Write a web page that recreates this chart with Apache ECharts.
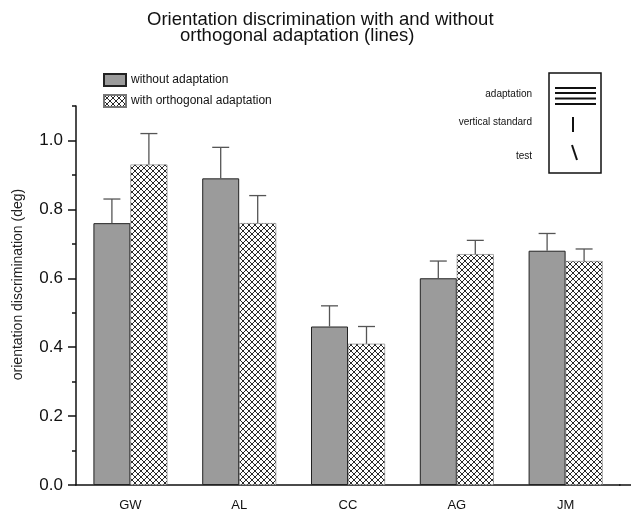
<!DOCTYPE html>
<html><head><meta charset="utf-8">
<script src="https://cdn.jsdelivr.net/npm/echarts@6/dist/echarts.min.js"></script>
<style>html,body{margin:0;padding:0;background:#fff}#c{width:632px;height:515px}</style>
</head><body><div id="c"></div>
<script>
const categories = ['GW', 'AL', 'CC', 'AG', 'JM'];
const withoutAdaptation = [0.76, 0.89, 0.46, 0.60, 0.68];
const withoutAdaptationErr = [0.07, 0.09, 0.06, 0.05, 0.05];
const withAdaptation = [0.93, 0.76, 0.41, 0.67, 0.65];
const withAdaptationErr = [0.09, 0.08, 0.05, 0.04, 0.035];
const yMajorTicks = [0, 0.2, 0.4, 0.6, 0.8, 1.0];
const yMinorTicks = [0.1, 0.3, 0.5, 0.7, 0.9, 1.1];
const seriesNames = ['without adaptation', 'with orthogonal adaptation'];
const insetLabels = ['adaptation', 'vertical standard', 'test'];

const FONT = '"Liberation Sans", Arial, sans-serif';
const BAR = 0.34;

function hatch() {
  const c = document.createElement('canvas');
  c.width = 6; c.height = 6;
  const g = c.getContext('2d');
  g.fillStyle = '#fff'; g.fillRect(0, 0, 6, 6);
  g.strokeStyle = '#2a2a2a'; g.lineWidth = 1;
  g.beginPath();
  g.moveTo(0, 0); g.lineTo(6, 6);
  g.moveTo(6, 0); g.lineTo(0, 6);
  g.stroke();
  return c;
}

function errSeries(vals, errs, side) {
  return {
    type: 'custom',
    z: 5,
    silent: true,
    renderItem: function (params, api) {
      const i = api.value(0), v = api.value(1), e = api.value(2);
      const base = api.coord([i, v]);
      const top = api.coord([i, v + e]);
      const band = api.size([1, 0])[0];
      const cx = base[0] + side * band * BAR / 2;
      const hw = band * 0.078;
      const st = { stroke: '#555', lineWidth: 1.3 };
      return {
        type: 'group',
        children: [
          { type: 'line', shape: { x1: cx, y1: base[1], x2: cx, y2: top[1] }, style: st },
          { type: 'line', shape: { x1: cx - hw, y1: top[1], x2: cx + hw, y2: top[1] }, style: st }
        ]
      };
    },
    data: vals.map((v, i) => [i, v, errs[i]])
  };
}

const chart = echarts.init(document.getElementById('c'), null, { renderer: 'canvas' });
const hatchImg = hatch();

const option = {
  backgroundColor: '#fff',
  animation: false,
  textStyle: { fontFamily: FONT },
  title: [
    { text: 'Orientation discrimination with and without', left: 142, top: 5,
      textStyle: { fontFamily: FONT, fontSize: 18.5, fontWeight: 'normal', color: '#111' } },
    { text: 'orthogonal adaptation (lines)', left: 175, top: 21,
      textStyle: { fontFamily: FONT, fontSize: 18.5, fontWeight: 'normal', color: '#111' } }
  ],
  legend: {
    data: seriesNames,
    orient: 'vertical',
    left: 103, top: 73,
    itemWidth: 22, itemHeight: 12, itemGap: 7,
    padding: 0,
    icon: 'rect',
    textStyle: { fontFamily: FONT, fontSize: 12, color: '#111' }
  },
  grid: { left: 76, right: 12, top: 106, bottom: 30, containLabel: false },
  xAxis: {
    type: 'category',
    data: categories,
    axisLine: { lineStyle: { color: '#111', width: 1.5 } },
    axisTick: { show: false },
    axisLabel: { fontFamily: FONT, fontSize: 13, color: '#111', margin: 14 }
  },
  yAxis: [
    {
      type: 'value', min: 0, max: 1.1,
      name: 'orientation discrimination (deg)',
      nameLocation: 'middle', nameRotate: 90, nameGap: 51,
      nameTextStyle: { fontFamily: FONT, fontSize: 14, color: '#222', padding: [0, 0, 0, 22] },
      axisLine: { show: true, lineStyle: { color: '#111', width: 1.5 } },
      axisTick: { show: true, length: 8, customValues: yMajorTicks, lineStyle: { color: '#111', width: 1.5 } },
      axisLabel: { customValues: yMajorTicks, fontFamily: FONT, fontSize: 17, color: '#111', margin: 13,
        formatter: v => v.toFixed(1) },
      splitLine: { show: false }
    },
    {
      type: 'value', min: 0, max: 1.1, position: 'left',
      axisLine: { show: false },
      axisTick: { show: true, length: 4, customValues: yMinorTicks, lineStyle: { color: '#111', width: 1.5 } },
      axisLabel: { show: false },
      splitLine: { show: false }
    }
  ],
  series: [
    {
      name: seriesNames[0], type: 'bar', data: withoutAdaptation,
      barWidth: (BAR * 100) + '%', barGap: '0%',
      itemStyle: { color: '#9b9b9b', borderColor: '#222', borderWidth: 1 }
    },
    {
      name: seriesNames[1], type: 'bar', data: withAdaptation,
      barWidth: (BAR * 100) + '%', barGap: '0%',
      itemStyle: { color: { image: hatchImg, repeat: 'repeat' }, borderColor: '#777', borderWidth: 0.6 }
    },
    errSeries(withoutAdaptation, withoutAdaptationErr, -1),
    errSeries(withAdaptation, withAdaptationErr, 1)
  ],
  graphic: [
    { type: 'line', shape: { x1: 619, y1: 485, x2: 631, y2: 485 }, style: { stroke: '#111', lineWidth: 1.5 } },
    { type: 'rect', shape: { x: 549, y: 73, width: 52, height: 100 }, style: { fill: '#fff', stroke: '#111', lineWidth: 1.5 } },
    { type: 'line', shape: { x1: 555, y1: 88, x2: 596, y2: 88 }, style: { stroke: '#111', lineWidth: 2 } },
    { type: 'line', shape: { x1: 555, y1: 93, x2: 596, y2: 93 }, style: { stroke: '#111', lineWidth: 2 } },
    { type: 'line', shape: { x1: 555, y1: 98.5, x2: 596, y2: 98.5 }, style: { stroke: '#111', lineWidth: 2 } },
    { type: 'line', shape: { x1: 555, y1: 104, x2: 596, y2: 104 }, style: { stroke: '#111', lineWidth: 2 } },
    { type: 'line', shape: { x1: 573, y1: 117, x2: 573, y2: 132 }, style: { stroke: '#111', lineWidth: 2 } },
    { type: 'line', shape: { x1: 572, y1: 145, x2: 577, y2: 160 }, style: { stroke: '#111', lineWidth: 2 } },
    { type: 'text', style: { text: insetLabels[0], x: 532, y: 94, align: 'right', verticalAlign: 'middle', font: '10px ' + FONT, fill: '#111' } },
    { type: 'text', style: { text: insetLabels[1], x: 532, y: 122, align: 'right', verticalAlign: 'middle', font: '10px ' + FONT, fill: '#111' } },
    { type: 'text', style: { text: insetLabels[2], x: 532, y: 156, align: 'right', verticalAlign: 'middle', font: '10px ' + FONT, fill: '#111' } }
  ]
};
chart.setOption(option);
</script>
</body></html>
